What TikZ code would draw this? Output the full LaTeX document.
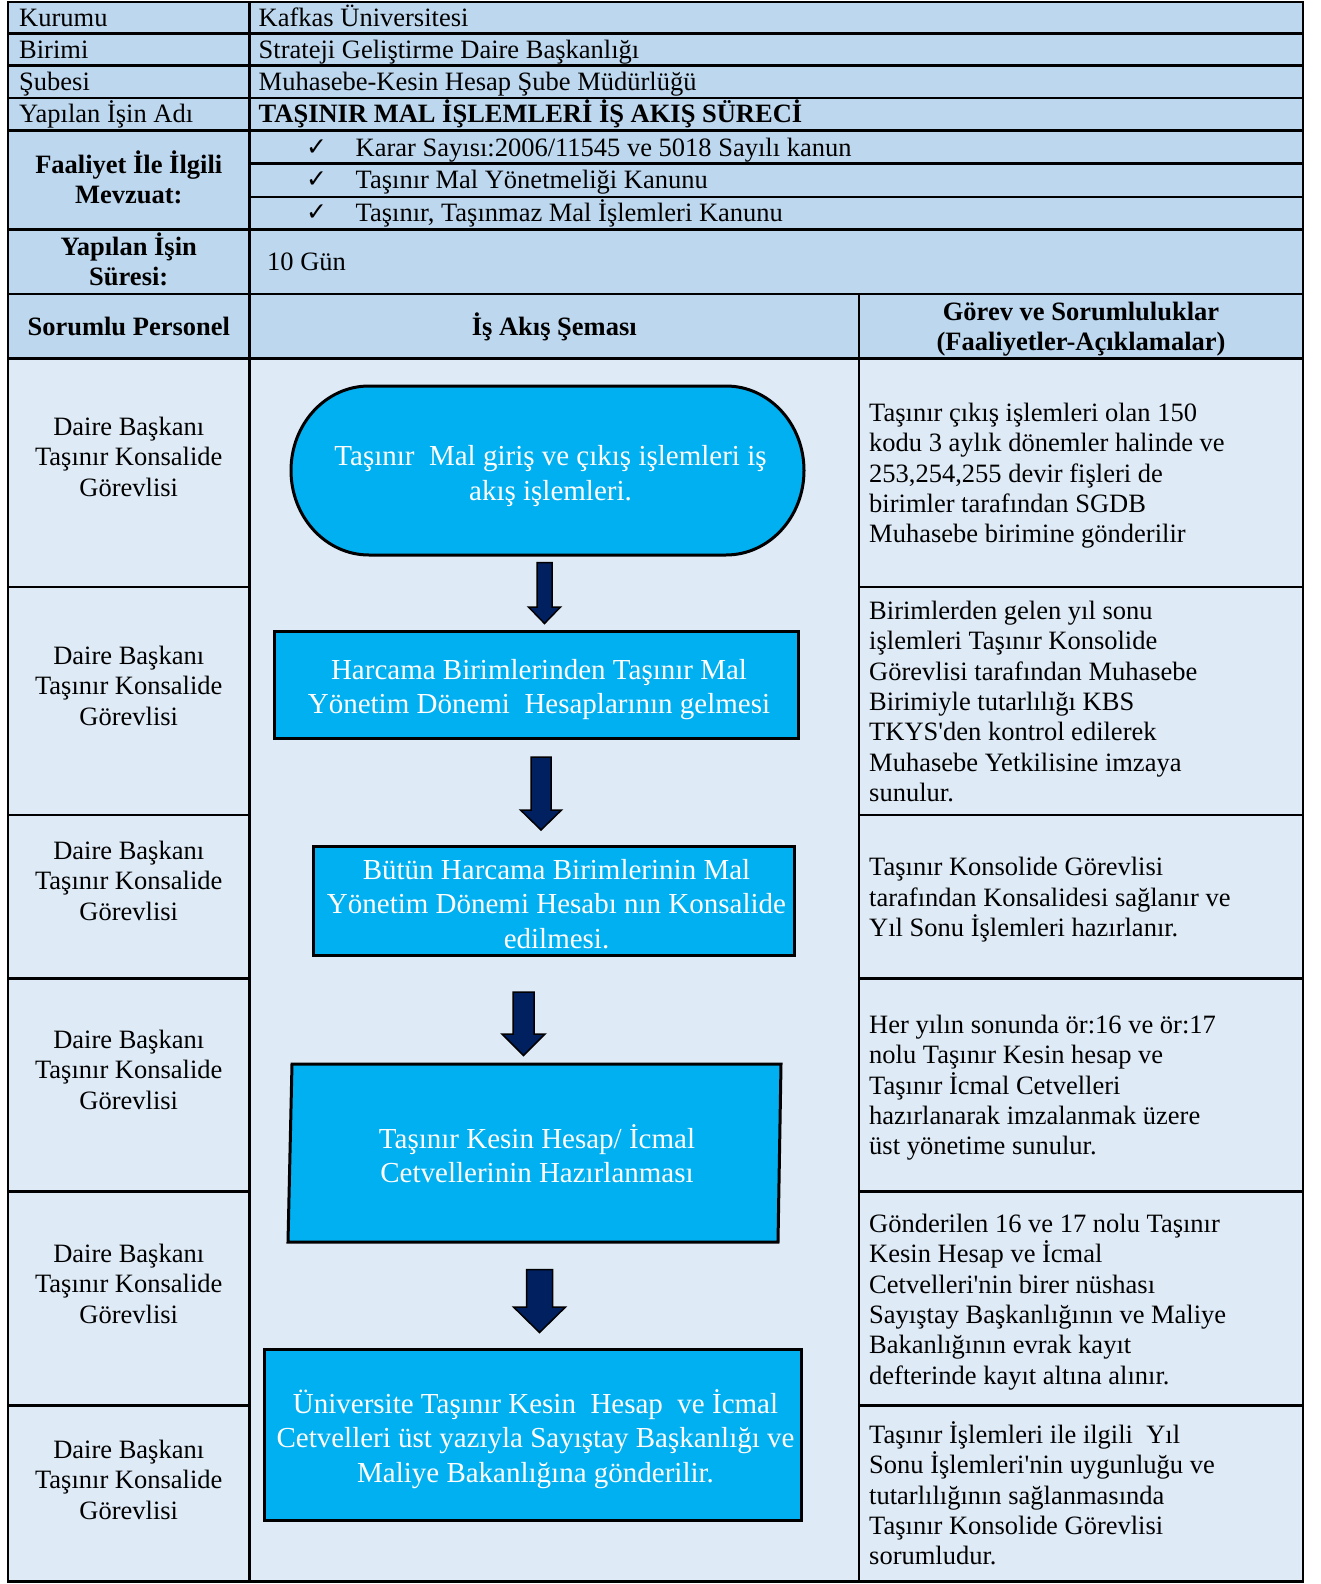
\documentclass[tikz,border=0pt]{standalone}
\usepackage{fontspec}
\setmainfont{Liberation Serif}
\newfontfamily\symfont{DejaVu Sans}
\definecolor{hdr}{HTML}{BDD7EE}
\definecolor{bodyc}{HTML}{DEEAF6}
\definecolor{flowc}{HTML}{00B0F0}
\definecolor{navy}{HTML}{002060}
\newcommand{\fs}{\rule{0pt}{24pt}}
\newcommand{\ffs}{\rule{0pt}{27pt}}
\newcommand{\blkarrow}[6]{%
  \draw[blockarrow] (#1-#5,#2) -- (#1+#5,#2) -- (#1+#5,#3) -- (#1+#6,#3) -- (#1,#4) -- (#1-#6,#3) -- (#1-#5,#3) -- cycle;}
\begin{document}
\begin{tikzpicture}[x=1pt,y=-1pt,
  gridline/.style={line width=2.5pt,black},
  hdrtxt/.style={inner sep=0pt,anchor=base west,font=\fontsize{26.5}{30.4}\selectfont},
  cellc/.style={inner sep=0pt,anchor=north,align=center,font=\fontsize{26.5}{30.4}\selectfont},
  celll/.style={inner sep=0pt,anchor=north west,align=left,font=\fontsize{26.5}{30.4}\selectfont},
  chk/.style={inner sep=0pt,anchor=base,font=\symfont\fontsize{25}{28}\selectfont},
  flowbox/.style={draw=black,line width=3pt,fill=flowc,inner sep=0pt},
  flowtxt/.style={inner sep=0pt,anchor=north,align=center,text=white,font=\fontsize{29}{34.3}\selectfont},
  blockarrow/.style={fill=navy,draw=black,line width=1.5pt,line join=miter}]
\useasboundingbox (0,0) rectangle (1320,1584);
% backgrounds
\fill[hdr] (8,2) rectangle (1303,358.5);
\fill[bodyc] (8,358.5) rectangle (1303,1581.5);
% grid
\draw[gridline] (8,2) rectangle (1303,1581.5);
\draw[gridline] (249.5,2) -- (249.5,1581.5);
\draw[gridline] (859,294) -- (859,1581.5);
\foreach \y in {33.5,65.5,98,130.5,229.5,294,358.5} \draw[gridline] (8,\y) -- (1303,\y);
\foreach \y in {163.5,197} \draw[gridline] (249.5,\y) -- (1303,\y);
\foreach \y in {587,815,978.5,1191.5,1405.5} {\draw[gridline] (8,\y) -- (249.5,\y); \draw[gridline] (859,\y) -- (1303,\y);}
% header texts
\node[hdrtxt] (h1a) at (19,26.5) {Kurumu};
\node[hdrtxt] (h1b) at (258.5,26.5) {Kafkas Üniversitesi};
\node[hdrtxt] (h2a) at (19,58.5) {Birimi};
\node[hdrtxt] (h2b) at (258.5,58.5) {Strateji Geliştirme Daire Başkanlığı};
\node[hdrtxt] (h3a) at (19,91) {Şubesi};
\node[hdrtxt] (h3b) at (258.5,91) {Muhasebe-Kesin Hesap Şube Müdürlüğü};
\node[hdrtxt] (h4a) at (19,123) {Yapılan İşin Adı};
\node[hdrtxt,font=\fontsize{26.5}{30.4}\selectfont\bfseries] (h4b) at (258.5,123) {TAŞINIR MAL İŞLEMLERİ İŞ AKIŞ SÜRECİ};
\node[cellc,font=\fontsize{26.5}{30}\selectfont\bfseries] (mevz) at (128.75,149.5) {\fs Faaliyet İle İlgili\\Mevzuat:};
\node[chk] (c1) at (316.5,155) {✓};
\node[chk] (c2) at (316.5,187.5) {✓};
\node[chk] (c3) at (316.5,220.5) {✓};
\node[hdrtxt] (m1) at (355.5,156) {Karar Sayısı:2006/11545 ve 5018 Sayılı kanun};
\node[hdrtxt] (m2) at (355.5,188.5) {Taşınır Mal Yönetmeliği Kanunu};
\node[hdrtxt] (m3) at (355.5,221.5) {Taşınır, Taşınmaz Mal İşlemleri Kanunu};
\node[cellc,font=\fontsize{26.5}{30}\selectfont\bfseries] (sure) at (128.75,231.7) {\fs Yapılan İşin\\Süresi:};
\node[hdrtxt] (gun) at (267,270) {10 Gün};
\node[inner sep=0pt,anchor=base,font=\fontsize{26.5}{30.4}\selectfont\bfseries] (colA) at (128.75,335) {Sorumlu Personel};
\node[inner sep=0pt,anchor=base,font=\fontsize{26.5}{30.4}\selectfont\bfseries] (colB) at (554.25,335) {İş Akış Şeması};
\node[cellc,font=\fontsize{26.5}{30}\selectfont\bfseries] (colC) at (1081,296.5) {\fs Görev ve Sorumluluklar\\(Faaliyetler-Açıklamalar)};
% left column
\foreach \n/\y in {1/435.1,2/664.3,3/859.2,4/1048.1,5/1262.2,6/1458.1}
  \node[cellc] (p\n) at (128.75,\y-24) {\fs Daire Başkanı\\Taşınır Konsalide\\Görevlisi};
% right column
\node[celll] (d1) at (869,421-24) {\fs Taşınır çıkış işlemleri olan 150\\kodu 3 aylık dönemler halinde ve\\253,254,255 devir fişleri de\\birimler tarafından SGDB\\Muhasebe birimine gönderilir};
\node[celll] (d2) at (869,619-24) {\fs Birimlerden gelen yıl sonu\\işlemleri Taşınır Konsolide\\Görevlisi tarafından Muhasebe\\Birimiyle tutarlılığı KBS\\TKYS\textquotesingle den kontrol edilerek\\Muhasebe Yetkilisine imzaya\\sunulur.};
\node[celll] (d3) at (869,875.5-24) {\fs Taşınır Konsolide Görevlisi\\tarafından Konsalidesi sağlanır ve\\Yıl Sonu İşlemleri hazırlanır.};
\node[celll] (d4) at (869,1033-24) {\fs Her yılın sonunda ör:16 ve ör:17\\nolu Taşınır Kesin hesap ve\\Taşınır İcmal Cetvelleri\\hazırlanarak imzalanmak üzere\\üst yönetime sunulur.};
\node[celll] (d5) at (869,1232-24) {\fs Gönderilen 16 ve 17 nolu Taşınır\\Kesin Hesap ve İcmal\\Cetvelleri\textquotesingle nin birer nüshası\\Sayıştay Başkanlığının ve Maliye\\Bakanlığının evrak kayıt\\defterinde kayıt altına alınır.};
\node[celll] (d6) at (869,1443-24) {\fs Taşınır İşlemleri ile ilgili\ \ Yıl\\Sonu İşlemleri\textquotesingle nin uygunluğu ve\\tutarlılığının sağlanmasında\\Taşınır Konsolide Görevlisi\\sorumludur.};
% flow shapes
\draw[flowbox] (369,386) -- (726,386) arc[start angle=-90,end angle=90,x radius=78,y radius=84.5]
  -- (369,555) arc[start angle=90,end angle=270,x radius=78,y radius=84.5] -- cycle;
\node[flowtxt] (t1) at (550.5,465.7-27) {\ffs Taşınır\ \ Mal giriş ve çıkış işlemleri iş\\akış işlemleri.};
\node[flowbox,minimum width=524pt,minimum height=107pt] (b1) at (536,684.5) {};
\node[flowtxt] (b1t) at (539,679.3-27) {\ffs Harcama Birimlerinden Taşınır Mal\\Yönetim Dönemi\ \ Hesaplarının gelmesi};
\node[flowbox,minimum width=481pt,minimum height=109pt] (b2) at (553.5,900.5) {};
\node[flowtxt] (b2t) at (556.5,879.3-27) {\ffs Bütün Harcama Birimlerinin Mal\\Yönetim Dönemi Hesabı nın Konsalide\\edilmesi.};
\draw[flowbox] (292,1064) -- (781,1064) -- (778,1242) -- (288,1242) -- cycle;
\node[flowtxt] (b3t) at (537,1148.3-27) {\ffs Taşınır Kesin Hesap/ İcmal\\Cetvellerinin Hazırlanması};
\node[flowbox,minimum width=537.5pt,minimum height=171pt] (b4) at (532.75,1435) {};
\node[flowtxt] (b4t) at (535.5,1413.3-27) {\ffs Üniversite Taşınır Kesin\ \ Hesap\ \ ve İcmal\\Cetvelleri üst yazıyla Sayıştay Başkanlığı ve\\Maliye Bakanlığına gönderilir.};
% block arrows
\blkarrow{544.5}{562.5}{607}{623.5}{7.5}{16}
\blkarrow{541}{757}{810}{830}{10}{20.5}
\blkarrow{523.5}{992}{1034}{1055.5}{10.5}{21.5}
\blkarrow{539.5}{1269.5}{1307}{1332.5}{13}{26}
\end{tikzpicture}
\end{document}
